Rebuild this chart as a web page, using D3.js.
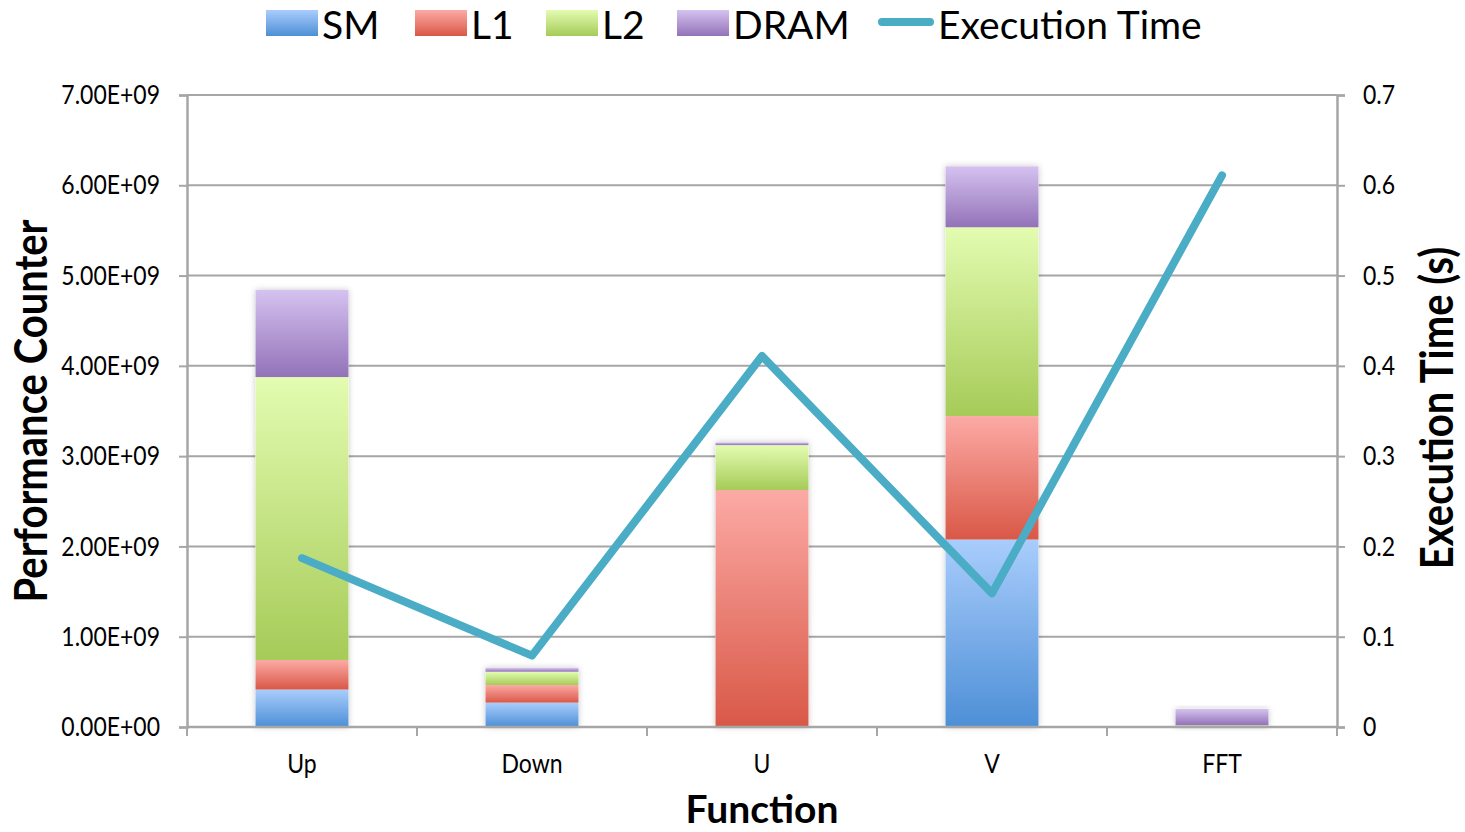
<!DOCTYPE html>
<html>
<head>
<meta charset="utf-8">
<script src="https://cdn.jsdelivr.net/npm/d3@7"></script>
<style>
  html, body { margin: 0; padding: 0; background: #fff; }
  svg text { font-family: Lato, "Open Sans", sans-serif; fill: #000; }
  .tall { transform-box: fill-box; transform-origin: center; transform: scale(1, 1.15); }
</style>
</head>
<body>
<svg id="chart" width="1465" height="832"></svg>
<script>
// Functions on the x axis
const categories = ["Up", "Down", "U", "V", "FFT"];
// Performance counter components (in units of 1e9)
const smValues   = [0.415, 0.27, 0.0, 2.076, 0.0];
const l1Values   = [0.327, 0.195, 2.625, 1.368, 0.015];
const l2Values   = [3.134, 0.147, 0.497, 2.091, 0.005];
const dramValues = [0.964, 0.041, 0.030, 0.675, 0.18];
// Execution time in seconds
const execTime = [0.187, 0.079, 0.411, 0.148, 0.611];

const leftTicks = [0, 1e9, 2e9, 3e9, 4e9, 5e9, 6e9, 7e9];
const rightTicks = [0, 0.1, 0.2, 0.3, 0.4, 0.5, 0.6, 0.7];
const seriesNames = ["SM", "L1", "L2", "DRAM"];
const lineName = "Execution Time";

const seriesColors = {
  SM:   ["#a9cdfc", "#4d8fd6"],
  L1:   ["#fcaaa5", "#d95847"],
  L2:   ["#e3fcb1", "#a6cb58"],
  DRAM: ["#d5c2f0", "#9372b8"]
};
const lineColor = "#4bacc6";

const svg = d3.select("#chart");
const margin = { left: 187, right: 1337, top: 95, bottom: 727 };

const x = d3.scaleBand().domain(categories).range([margin.left, margin.right]).paddingInner(0).paddingOuter(0);
const yL = d3.scaleLinear().domain([0, 7e9]).range([margin.bottom, margin.top]);
const yR = d3.scaleLinear().domain([0, 0.7]).range([margin.bottom, margin.top]);

// gradients and bar shadow
const defs = svg.append("defs");
seriesNames.forEach(s => {
  const g = defs.append("linearGradient").attr("id", "grad-" + s)
    .attr("x1", 0).attr("y1", 0).attr("x2", 0).attr("y2", 1);
  g.append("stop").attr("offset", "0%").attr("stop-color", seriesColors[s][0]);
  g.append("stop").attr("offset", "100%").attr("stop-color", seriesColors[s][1]);
});
const f = defs.append("filter").attr("id", "shadow").attr("x", "-20%").attr("y", "-20%").attr("width", "140%").attr("height", "140%");
f.append("feDropShadow").attr("dx", 0).attr("dy", 0).attr("stdDeviation", 3).attr("flood-color", "#000").attr("flood-opacity", 0.22);

// gridlines
svg.append("g").selectAll("line").data(leftTicks.slice(1)).join("line")
  .attr("x1", margin.left).attr("x2", margin.right)
  .attr("y1", d => yL(d)).attr("y2", d => yL(d))
  .attr("stroke", "#a6a6a6").attr("stroke-width", 2);

// stacked bars
const table = categories.map((c, i) => ({
  cat: c, SM: smValues[i] * 1e9, L1: l1Values[i] * 1e9, L2: l2Values[i] * 1e9, DRAM: dramValues[i] * 1e9
}));
const stacked = d3.stack().keys(seriesNames)(table);
const barW = 93;

const barG = svg.append("g");
// shadow layer behind each full bar
barG.selectAll("rect.sh").data(table).join("rect").attr("class", "sh")
  .attr("x", d => x(d.cat) + x.bandwidth() / 2 - barW / 2)
  .attr("width", barW)
  .attr("y", d => yL(d.SM + d.L1 + d.L2 + d.DRAM))
  .attr("height", d => yL(0) - yL(d.SM + d.L1 + d.L2 + d.DRAM))
  .attr("fill", "#fff").attr("filter", "url(#shadow)");

stacked.forEach(layer => {
  barG.append("g").selectAll("rect").data(layer).join("rect")
    .attr("x", d => x(d.data.cat) + x.bandwidth() / 2 - barW / 2)
    .attr("width", barW)
    .attr("y", d => yL(d[1]))
    .attr("height", d => Math.max(0, yL(d[0]) - yL(d[1])))
    .attr("fill", "url(#grad-" + layer.key + ")");
});

// axes
const axisColor = "#a6a6a6";
const leftAxis = svg.append("g").attr("transform", `translate(${margin.left},0)`)
  .call(d3.axisLeft(yL).tickValues(leftTicks).tickSize(8).tickPadding(19)
    .tickFormat(d => d3.format(".2e")(d).replace("e+", "E+0").replace("e-", "E-0").replace(/E([+-])0(\d\d)/, "E$1$2")));
const rightAxis = svg.append("g").attr("transform", `translate(${margin.right},0)`)
  .call(d3.axisRight(yR).tickValues(rightTicks).tickSize(8).tickPadding(18)
    .tickFormat(d => d === 0 ? "0" : d3.format(".1f")(d)));
const bottomAxis = svg.append("g").attr("transform", `translate(0,${margin.bottom})`)
  .call(d3.axisBottom(x).tickSize(0).tickPadding(28));

// category boundary ticks on the x axis
svg.append("g").selectAll("line").data(d3.range(categories.length + 1)).join("line")
  .attr("x1", i => margin.left + i * x.step()).attr("x2", i => margin.left + i * x.step())
  .attr("y1", margin.bottom).attr("y2", margin.bottom + 9)
  .attr("stroke", axisColor).attr("stroke-width", 2);

[leftAxis, rightAxis, bottomAxis].forEach(a => {
  a.selectAll("path.domain").attr("stroke", axisColor).attr("stroke-width", 2.5);
  a.selectAll(".tick line").attr("stroke", axisColor).attr("stroke-width", 2);
  a.selectAll("text").attr("font-family", "Lato, sans-serif").attr("font-size", 23).attr("fill", "#000")
    .attr("class", "tall");
});
bottomAxis.select("path.domain").attr("d", `M${margin.left},0H${margin.right}`);

// execution time line
const line = d3.line().x((d, i) => x(categories[i]) + x.bandwidth() / 2).y(d => yR(d));
svg.append("path").datum(execTime).attr("d", line)
  .attr("fill", "none").attr("stroke", lineColor).attr("stroke-width", 8)
  .attr("stroke-linejoin", "round").attr("stroke-linecap", "round");

// axis titles
svg.append("g").attr("transform", "translate(45,411) rotate(-90)")
  .append("text").attr("class", "tall")
  .attr("text-anchor", "middle").attr("font-weight", 700).attr("font-size", 40)
  .text("Performance Counter");
svg.append("g").attr("transform", "translate(1451,408) rotate(-90)")
  .append("text").attr("class", "tall")
  .attr("text-anchor", "middle").attr("font-weight", 700).attr("font-size", 40)
  .text("Execution Time (s)");
svg.append("text")
  .attr("x", 762).attr("y", 823)
  .attr("text-anchor", "middle").attr("font-weight", 700).attr("font-size", 39)
  .text("Function");

// legend
const legend = svg.append("g");
const legendX = [266, 415, 546, 677];
seriesNames.forEach((s, i) => {
  legend.append("rect").attr("x", legendX[i]).attr("y", 10).attr("width", 52).attr("height", 26)
    .attr("fill", "url(#grad-" + s + ")");
  legend.append("text").attr("x", legendX[i] + 56).attr("y", 39)
    .attr("font-size", 39).text(s);
});
legend.append("line").attr("x1", 882).attr("x2", 930).attr("y1", 22).attr("y2", 22)
  .attr("stroke", lineColor).attr("stroke-width", 8).attr("stroke-linecap", "round");
legend.append("text").attr("x", 938).attr("y", 39)
  .attr("font-size", 39).text(lineName);
</script>
</body>
</html>
